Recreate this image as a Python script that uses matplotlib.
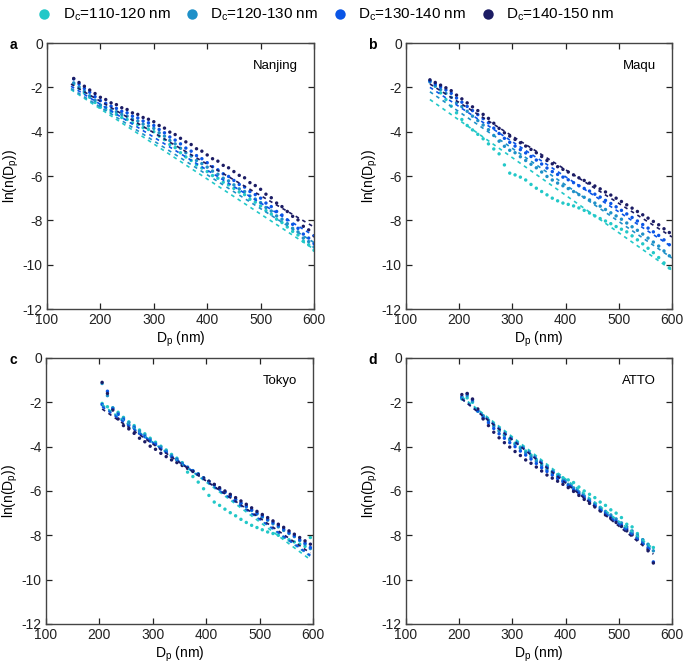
import matplotlib
matplotlib.use("Agg")
from matplotlib import pyplot as plt

plt.rcParams['font.family'] = ['Liberation Sans', 'DejaVu Sans']
plt.rcParams['mathtext.default'] = 'regular'
plt.rcParams['axes.unicode_minus'] = False

# Legend / series
series_names = ['D$_c$=110-120 nm', 'D$_c$=120-130 nm', 'D$_c$=130-140 nm', 'D$_c$=140-150 nm']
colors = ['#22c8c8', '#1e90c8', '#0a55e6', '#1c1c64']

# Panel a - Nanjing
x_a = list(range(150, 601, 10))
cyan_a = [-1.85, -2.05, -2.25, -2.45, -2.68, -2.90, -3.00, -3.12, -3.22, -3.36,
          -3.45, -3.60, -3.68, -3.82, -3.90, -4.00, -4.20, -4.36, -4.58, -4.72,
          -4.95, -5.14, -5.30, -5.50, -5.64, -5.80, -5.98, -6.10, -6.28, -6.40,
          -6.56, -6.72, -6.84, -7.05, -7.18, -7.35, -7.56, -7.72, -7.95, -8.10,
          -8.30, -8.50, -8.66, -8.94, -9.10, -9.35]
mid_a = [-1.80, -1.98, -2.18, -2.38, -2.58, -2.80, -2.90, -3.02, -3.10, -3.22,
         -3.30, -3.44, -3.52, -3.66, -3.74, -3.85, -4.05, -4.20, -4.40, -4.55,
         -4.75, -4.95, -5.10, -5.30, -5.44, -5.60, -5.78, -5.92, -6.10, -6.22,
         -6.40, -6.58, -6.70, -6.90, -7.04, -7.20, -7.42, -7.58, -7.80, -7.95,
         -8.15, -8.36, -8.52, -8.80, -8.96, -9.20]
blue_a = [-1.62, -1.85, -2.05, -2.22, -2.42, -2.60, -2.72, -2.85, -2.95, -3.08,
          -3.15, -3.30, -3.38, -3.52, -3.60, -3.72, -3.90, -4.05, -4.24, -4.38,
          -4.55, -4.74, -4.88, -5.08, -5.22, -5.40, -5.58, -5.72, -5.90, -6.02,
          -6.20, -6.38, -6.50, -6.70, -6.84, -7.00, -7.22, -7.38, -7.60, -7.76,
          -7.98, -8.18, -8.36, -8.62, -8.80, -9.05]
navy_a = [-1.60, -1.78, -1.95, -2.12, -2.28, -2.45, -2.55, -2.70, -2.78, -2.92,
          -3.00, -3.15, -3.22, -3.36, -3.44, -3.55, -3.72, -3.84, -4.02, -4.13,
          -4.30, -4.46, -4.58, -4.77, -4.88, -5.05, -5.22, -5.33, -5.52, -5.63,
          -5.80, -5.97, -6.08, -6.30, -6.43, -6.60, -6.82, -6.98, -7.22, -7.38,
          -7.60, -7.82, -7.98, -8.27, -8.43, -8.70]
fit_a_x = [145, 600]
fit_a = [[-2.10, -9.30], [-2.05, -9.00], [-1.95, -8.70], [-1.85, -8.30]]

# Panel b - Maqu
x_b = list(range(145, 596, 10))
cyan_b = [-1.70, -1.95, -2.25, -2.55, -2.85, -3.15, -3.45, -3.72, -3.92, -4.12,
          -4.32, -4.55, -4.78, -5.00, -5.50, -5.87, -5.95, -6.05, -6.18, -6.38,
          -6.55, -6.70, -6.85, -7.00, -7.12, -7.22, -7.28, -7.35, -7.44, -7.55,
          -7.67, -7.80, -7.92, -8.03, -8.15, -8.28, -8.40, -8.52, -8.70, -8.88,
          -9.06, -9.26, -9.46, -9.68, -9.92, -10.15]
mid_b = [-1.76, -1.93, -2.10, -2.27, -2.45, -2.70, -2.87, -3.08, -3.30, -3.50,
         -3.70, -3.91, -4.17, -4.43, -4.66, -4.84, -4.95, -5.13, -5.30, -5.47,
         -5.63, -5.82, -6.02, -6.18, -6.32, -6.44, -6.57, -6.70, -6.84, -6.96,
         -7.08, -7.22, -7.36, -7.51, -7.66, -7.80, -7.95, -8.12, -8.29, -8.45,
         -8.62, -8.80, -8.98, -9.16, -9.38, -9.60]
blue_b = [-1.71, -1.85, -1.98, -2.12, -2.27, -2.48, -2.67, -2.86, -3.05, -3.23,
          -3.41, -3.60, -3.84, -4.08, -4.30, -4.48, -4.65, -4.81, -4.96, -5.12,
          -5.28, -5.46, -5.64, -5.80, -5.93, -6.05, -6.17, -6.30, -6.44, -6.56,
          -6.68, -6.82, -6.95, -7.10, -7.24, -7.39, -7.55, -7.71, -7.87, -8.03,
          -8.19, -8.35, -8.52, -8.68, -8.88, -9.10]
navy_b = [-1.66, -1.78, -1.90, -2.02, -2.15, -2.35, -2.52, -2.70, -2.88, -3.05,
          -3.22, -3.40, -3.62, -3.85, -4.05, -4.20, -4.35, -4.50, -4.65, -4.80,
          -4.95, -5.12, -5.30, -5.45, -5.58, -5.70, -5.82, -5.95, -6.08, -6.20,
          -6.32, -6.45, -6.58, -6.72, -6.86, -7.00, -7.15, -7.30, -7.45, -7.60,
          -7.75, -7.90, -8.05, -8.20, -8.38, -8.55]
fit_b_x = [145, 600]
fit_b = [[-2.55, -10.25], [-2.20, -9.70], [-2.00, -9.20], [-1.85, -8.75]]

# Panel c - Tokyo
x_c = list(range(205, 596, 10))
cyan_c = [-2.05, -2.20, -2.25, -2.45, -2.68, -2.88, -3.05, -3.25, -3.42, -3.62,
          -3.80, -3.98, -4.15, -4.35, -4.52, -4.72, -5.15, -5.35, -5.60, -5.90,
          -6.20, -6.50, -6.65, -6.82, -6.98, -7.12, -7.28, -7.42, -7.55, -7.65,
          -7.75, -7.85, -7.92, -8.00, -8.10, -8.20, -8.30, -8.40, -8.50, -8.10]
mid_c = [-1.15, -1.70, -2.25, -2.50, -2.72, -2.92, -3.10, -3.30, -3.48, -3.68,
         -3.86, -4.02, -4.20, -4.40, -4.56, -4.75, -4.92, -5.08, -5.22, -5.40,
         -5.56, -5.74, -5.90, -6.06, -6.24, -6.40, -6.56, -6.72, -6.88, -7.04,
         -7.18, -7.32, -7.48, -7.62, -7.78, -7.92, -8.06, -8.24, -8.40, -8.60]
blue_c = [-2.10, -1.50, -2.30, -2.55, -2.78, -3.02, -3.15, -3.40, -3.55, -3.75,
          -3.90, -4.10, -4.25, -4.45, -4.60, -4.80, -4.95, -5.10, -5.25, -5.42,
          -5.58, -5.72, -5.92, -6.05, -6.22, -6.38, -6.55, -6.68, -6.85, -7.00,
          -7.12, -7.28, -7.42, -7.56, -7.72, -7.88, -8.02, -8.20, -8.35, -8.55]
navy_c = [-1.10, -1.60, -2.35, -2.75, -3.05, -3.20, -3.40, -3.62, -3.78, -3.98,
          -4.12, -4.30, -4.45, -4.60, -4.72, -4.85, -4.98, -5.12, -5.26, -5.42,
          -5.56, -5.70, -5.85, -6.00, -6.15, -6.30, -6.45, -6.60, -6.76, -6.92,
          -7.06, -7.20, -7.35, -7.50, -7.64, -7.80, -7.95, -8.10, -8.25, -8.40]
fit_c_x = [205, 595]
fit_c = [[-2.10, -9.10], [-2.15, -8.95], [-2.20, -8.90], [-2.30, -8.80]]

# Panel d - ATTO
x_d = list(range(205, 566, 10))
cyan_d = [-1.85, -1.80, -2.00, -2.40, -2.60, -2.80, -3.02, -3.25, -3.45, -3.65,
          -3.85, -4.02, -4.20, -4.38, -4.58, -4.78, -4.96, -5.12, -5.26, -5.40,
          -5.50, -5.62, -5.82, -6.00, -6.15, -6.30, -6.50, -6.65, -6.85, -7.00,
          -7.20, -7.50, -7.62, -7.92, -8.20, -8.40, -8.55]
mid_d = [-1.80, -1.70, -1.95, -2.40, -2.62, -2.84, -3.08, -3.30, -3.50, -3.70,
         -3.90, -4.08, -4.28, -4.46, -4.66, -4.86, -5.04, -5.20, -5.36, -5.52,
         -5.70, -5.86, -6.04, -6.22, -6.40, -6.56, -6.74, -6.92, -7.08, -7.26,
         -7.44, -7.62, -7.80, -8.00, -8.20, -8.42, -8.70]
blue_d = [-1.75, -1.62, -1.88, -2.38, -2.70, -2.92, -3.18, -3.42, -3.62, -3.82,
          -4.00, -4.20, -4.38, -4.56, -4.76, -4.95, -5.12, -5.28, -5.44, -5.58,
          -5.76, -5.95, -6.12, -6.30, -6.48, -6.65, -6.82, -7.00, -7.18, -7.36,
          -7.54, -7.72, -7.90, -8.10, -8.30, -8.55, -9.20]
navy_d = [-1.65, -1.60, -1.85, -2.30, -2.75, -3.05, -3.35, -3.60, -3.82, -4.02,
          -4.22, -4.40, -4.60, -4.75, -4.92, -5.10, -5.28, -5.42, -5.56, -5.70,
          -5.85, -6.02, -6.20, -6.38, -6.56, -6.72, -6.90, -7.08, -7.24, -7.42,
          -7.60, -7.80, -7.98, -8.18, -8.38, -8.70, -9.25]
fit_d_x = [205, 565]
fit_d = [[-1.75, -8.60], [-1.80, -8.70], [-1.85, -8.75], [-1.85, -8.85]]

panels = [
    ('a', 'Nanjing', x_a, [cyan_a, mid_a, blue_a, navy_a], fit_a_x, fit_a),
    ('b', 'Maqu', x_b, [cyan_b, mid_b, blue_b, navy_b], fit_b_x, fit_b),
    ('c', 'Tokyo', x_c, [cyan_c, mid_c, blue_c, navy_c], fit_c_x, fit_c),
    ('d', 'ATTO', x_d, [cyan_d, mid_d, blue_d, navy_d], fit_d_x, fit_d),
]
# axes boxes in figure fractions
boxes = [[0.0686, 0.5388, 0.3898, 0.397], [0.5927, 0.5388, 0.3883, 0.397],
         [0.0672, 0.0687, 0.3898, 0.397], [0.5927, 0.0687, 0.3883, 0.397]]
letter_pos = [(0.014, 0.933), (0.538, 0.933), (0.014, 0.463), (0.538, 0.463)]

fig = plt.figure(figsize=(6.85, 6.7), dpi=100)
for (letter, site, xs, ys, fx, fits), box, lp in zip(panels, boxes, letter_pos):
    ax = fig.add_axes(box)
    for y, fit, c in zip(ys, fits, colors):
        ax.plot(fx, fit, color=c, lw=1.2, linestyle=(0, (2.2, 2.4)))
        ax.scatter(xs, y, s=6, color=c, edgecolors='none')
    ax.set_xlim(100, 600)
    ax.set_ylim(-12, 0)
    ax.set_xticks(range(100, 601, 100))
    ax.set_yticks(range(-12, 1, 2))
    ax.tick_params(direction='in', length=4, width=0.9, top=True, right=True,
                   labelsize=10, colors='#222222', pad=3)
    for s in ax.spines.values():
        s.set_color('#444444')
        s.set_linewidth(1.0)
    ax.set_xlabel('D$_p$ (nm)', fontsize=10, labelpad=2)
    ax.set_ylabel('ln(n(D$_p$))', fontsize=10, labelpad=1)
    ax.text(0.94, 0.915, site, transform=ax.transAxes, ha='right', va='center', fontsize=9.5)
    fig.text(lp[0], lp[1], letter, fontsize=10, fontweight='bold', ha='left', va='center')

handles = [plt.Line2D([], [], marker='o', linestyle='none', markersize=7.5,
                      markerfacecolor=c, markeredgecolor='none') for c in colors]
fig.legend(handles, series_names, loc='upper center', bbox_to_anchor=(0.475, 1.01),
           ncol=4, frameon=False, fontsize=11, handlelength=1.0,
           handletextpad=0.7, columnspacing=0.9)

plt.savefig('out.png', dpi=100)
